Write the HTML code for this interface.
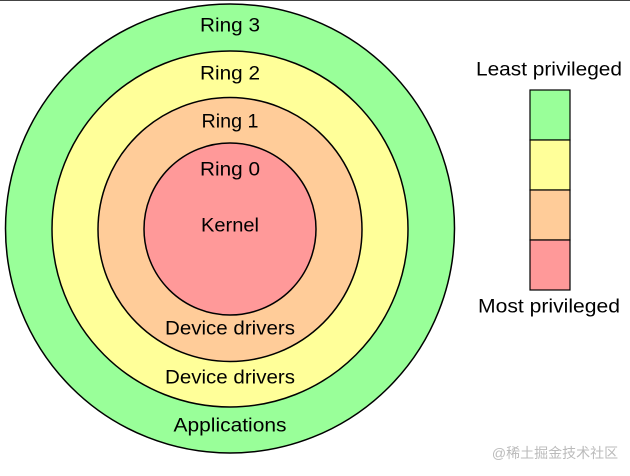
<!DOCTYPE html>
<html><head><meta charset="utf-8"><style>
html,body{margin:0;padding:0;background:#fff;}
svg{display:block}
text{font-family:"Liberation Sans","Noto Sans CJK SC",sans-serif;font-size:19px;fill:#000;text-anchor:middle;dominant-baseline:central}
</style></head><body>
<svg width="630" height="476" viewBox="0 0 630 476">
<line x1="0" y1="0.5" x2="630" y2="0.5" stroke="#444" stroke-width="1"/>
<circle cx="230" cy="228.5" r="224.5" fill="#99ff99" stroke="#000" stroke-width="1.5"/>
<circle cx="230" cy="229" r="178" fill="#ffff99" stroke="#000" stroke-width="1.5"/>
<circle cx="230" cy="229.5" r="132" fill="#ffcc99" stroke="#000" stroke-width="1.5"/>
<circle cx="230" cy="229" r="86" fill="#ff9999" stroke="#000" stroke-width="1.5"/>
<text x="230" y="26" textLength="60" lengthAdjust="spacingAndGlyphs">Ring 3</text>
<text x="230" y="74" textLength="60" lengthAdjust="spacingAndGlyphs">Ring 2</text>
<text x="230" y="122" textLength="57" lengthAdjust="spacingAndGlyphs">Ring 1</text>
<text x="230" y="170" textLength="60" lengthAdjust="spacingAndGlyphs">Ring 0</text>
<text x="230" y="226" textLength="58" lengthAdjust="spacingAndGlyphs">Kernel</text>
<text x="230" y="329" textLength="130" lengthAdjust="spacingAndGlyphs">Device drivers</text>
<text x="230" y="378" textLength="130" lengthAdjust="spacingAndGlyphs">Device drivers</text>
<text x="230" y="426" textLength="113" lengthAdjust="spacingAndGlyphs">Applications</text>
<rect x="530" y="90" width="40" height="50" fill="#99ff99" stroke="#000" stroke-width="1.2"/>
<rect x="530" y="140" width="40" height="50" fill="#ffff99" stroke="#000" stroke-width="1.2"/>
<rect x="530" y="190" width="40" height="50" fill="#ffcc99" stroke="#000" stroke-width="1.2"/>
<rect x="530" y="240" width="40" height="50" fill="#ff9999" stroke="#000" stroke-width="1.2"/>
<text x="549" y="70" textLength="146" lengthAdjust="spacingAndGlyphs">Least privileged</text>
<text x="549" y="307" textLength="142" lengthAdjust="spacingAndGlyphs">Most privileged</text>
<text x="555" y="453" style="font-size:14px;fill:#bbb">@稀土掘金技术社区</text>
</svg>
</body></html>
